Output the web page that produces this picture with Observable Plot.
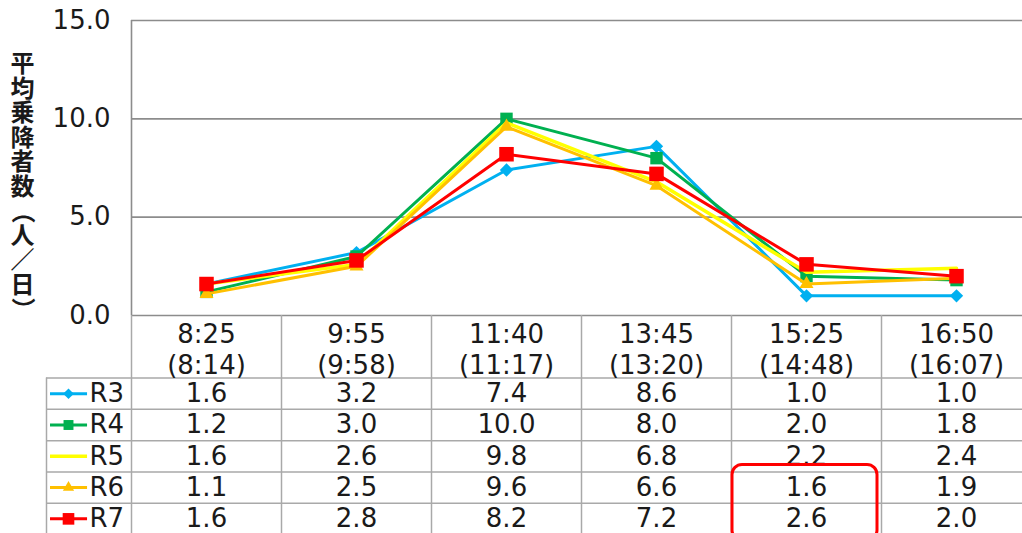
<!DOCTYPE html>
<html><head><meta charset="utf-8">
<script src="https://cdn.jsdelivr.net/npm/d3@7"></script>
<script src="https://cdn.jsdelivr.net/npm/@observablehq/plot@0.6"></script>
<style>
html,body{margin:0;padding:0;background:#fff;overflow:hidden;}
#wrap{position:relative;width:1032px;height:533px;overflow:hidden;}
#chart,#table{position:absolute;left:0;}
#chart{top:0}
#table{top:315px}
svg{display:block;overflow:visible}
</style></head><body><div id="wrap"><div id="chart"></div><div id="table"></div></div>
<script>
// ---- data ----
const categories = ["8:25", "9:55", "11:40", "13:45", "15:25", "16:50"];
const categoryTimes = ["(8:14)", "(9:58)", "(11:17)", "(13:20)", "(14:48)", "(16:07)"];
const seriesNames = ["R3", "R4", "R5", "R6", "R7"];
const R3 = [1.6, 3.2, 7.4, 8.6, 1.0, 1.0];
const R4 = [1.2, 3.0, 10.0, 8.0, 2.0, 1.8];
const R5 = [1.6, 2.6, 9.8, 6.8, 2.2, 2.4];
const R6 = [1.1, 2.5, 9.6, 6.6, 1.6, 1.9];
const R7 = [1.6, 2.8, 8.2, 7.2, 2.6, 2.0];
const yTicks = [0, 5, 10, 15];
const yLabel = "平均乗降者数（人／日）";
const highlightCategory = "15:25";
const highlightSeries = ["R6", "R7"];

// ---- styles ----
const values = {R3, R4, R5, R6, R7};
const styles = {
  R3: {color: "#00B0F0", symbol: "diamond2", r: 6, width: 3},
  R4: {color: "#00B050", symbol: "square", r: 7, width: 3},
  R5: {color: "#FFFF00", symbol: null, r: 0, width: 3.5},
  R6: {color: "#FFC000", symbol: "triangle", r: 5.2, width: 3},
  R7: {color: "#FF0000", symbol: "square", r: 8.2, width: 3}
};
const font = "'DejaVu Sans', sans-serif";
const gridColor = "#8c8c8c";
const tableColor = "#a9a9a9";
const textColor = "#1a1a1a";

const data = seriesNames.flatMap(s => values[s].map((v, i) => ({series: s, category: categories[i], value: v})));
const xPos = d => categories.indexOf(d.category) + 0.5;
const nCat = categories.length;

// ---- chart ----
const seriesMarks = seriesNames.flatMap(s => {
  const st = styles[s];
  const rows = data.filter(d => d.series === s);
  const m = [Plot.line(rows, {x: xPos, y: "value", stroke: st.color, strokeWidth: st.width})];
  if (st.symbol) m.push(Plot.dot(rows, {x: xPos, y: "value", symbol: st.symbol, r: st.r, fill: st.color, stroke: "none"}));
  return m;
});

// vertical (tategaki) axis label: one character per line, brackets turned
const labelChars = Array.from(yLabel);
const charStep = 24.5;
const labelMarks = labelChars.map((ch, i) => Plot.text([ch], {
  frameAnchor: "left", textAnchor: "middle",
  dx: -109, dy: 19 + (i - (labelChars.length - 1) / 2) * charStep,
  rotate: "（）".includes(ch) ? 90 : 0,
  fontSize: 24, fontWeight: "bold", fontFamily: "'Noto Sans CJK JP', sans-serif", fill: textColor
}));

const chart = Plot.plot({
  width: 1032, height: 316,
  marginLeft: 131, marginRight: 1, marginTop: 20, marginBottom: 1,
  style: {fontFamily: font, fontSize: "26px", color: textColor, background: "transparent"},
  x: {domain: [0, nCat], axis: null},
  y: {domain: [0, 15], axis: null},
  marks: [
    Plot.ruleY(yTicks, {x1: 0, x2: nCat, stroke: gridColor, strokeWidth: 1.6}),
    Plot.ruleX([0], {y1: 0, y2: 15, stroke: gridColor, strokeWidth: 1.6}),
    Plot.axisY(yTicks, {tickSize: 0, tickPadding: 21, tickFormat: d => d.toFixed(1), fontSize: 26, label: null, fill: textColor}),
    ...labelMarks,
    ...seriesMarks
  ]
});
document.getElementById("chart").append(chart);

// ---- data table ----
const legendLeft = -85 / 150;
const rowY = s => seriesNames.indexOf(s) + 2.5;
const legendMarks = seriesNames.flatMap(s => {
  const st = styles[s];
  const m = [Plot.ruleY([s], {y: rowY, x1: -0.54, x2: -0.293, stroke: st.color, strokeWidth: st.width})];
  if (st.symbol) m.push(Plot.dot([s], {x: -0.42, y: rowY, symbol: st.symbol, r: st.r * 0.8, fill: st.color, stroke: "none"}));
  return m;
});

const table = Plot.plot({
  width: 1032, height: 225,
  marginLeft: 131, marginRight: 1, marginTop: 0, marginBottom: 6,
  style: {fontFamily: font, fontSize: "26px", color: textColor, background: "transparent"},
  x: {domain: [0, nCat], axis: null},
  y: {domain: [0, 7], reverse: true, axis: null},
  marks: [
    Plot.ruleY([2, 3, 4, 5, 6, 7], {x1: legendLeft, x2: nCat, stroke: tableColor, strokeWidth: 1.5}),
    Plot.ruleX(d3.range(0, nCat + 1), {y1: 0, y2: 7, stroke: tableColor, strokeWidth: 1.5}),
    Plot.ruleX([legendLeft], {y1: 2, y2: 7, stroke: tableColor, strokeWidth: 1.5}),
    Plot.text(categories, {x: (d, i) => i + 0.5, y: 1, dy: 2, text: (d, i) => d + "\n" + categoryTimes[i], lineHeight: 1.17, fontSize: 26, fill: textColor}),
    Plot.text(data, {x: xPos, y: d => rowY(d.series), text: d => d.value.toFixed(1), fontSize: 26, fill: textColor}),
    ...legendMarks,
    Plot.text(seriesNames, {x: 0, dx: -42, y: rowY, text: d => d, textAnchor: "start", fontSize: 26, fill: textColor}),
    Plot.rect([{category: highlightCategory, series: highlightSeries}], {
      x1: d => categories.indexOf(d.category), x2: d => categories.indexOf(d.category) + 1,
      y1: d => seriesNames.indexOf(d.series[0]) + 2, y2: d => seriesNames.indexOf(d.series[d.series.length - 1]) + 3,
      insetLeft: 1, insetRight: 4, insetTop: -7, insetBottom: -6, rx: 10,
      fill: "none", stroke: "#FF0000", strokeWidth: 3
    })
  ]
});
document.getElementById("table").append(table);
</script></body></html>
